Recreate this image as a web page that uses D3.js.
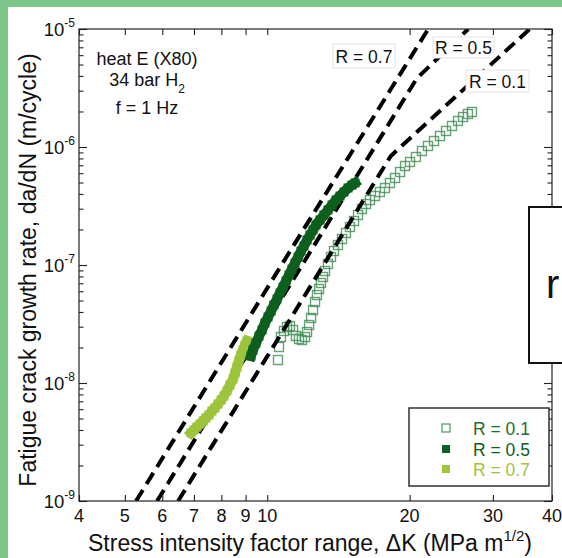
<!DOCTYPE html>
<html>
<head>
<meta charset="utf-8">
<script src="https://cdn.jsdelivr.net/npm/d3@7"></script>
<style>
  html, body { margin: 0; padding: 0; background: #fff; }
  svg { display: block; font-family: "Liberation Sans", Arial, Helvetica, sans-serif; }
</style>
</head>
<body>
<svg id="chart" width="562" height="558"></svg>
<script>
// ---- axis ticks ----
const kTicks = [4, 5, 6, 7, 8, 9, 10, 20, 30, 40];
const kTickLabels = ["4", "5", "6", "7", "8", "9", "10", "20", "30", "40"];
const rateDecades = [1e-9, 1e-8, 1e-7, 1e-6, 1e-5];
const rateExponents = ["-9", "-8", "-7", "-6", "-5"];

// ---- measured crack growth, R = 0.1 (open squares) ----
const r01K = [10.54, 10.59, 10.69, 10.85, 11.01, 11.17, 11.34, 11.50, 11.67, 11.84, 12.02, 12.14, 12.26,
  12.38, 12.50, 12.62, 12.74, 12.87, 12.99, 13.12, 13.25, 13.44, 13.64, 13.84, 14.11, 14.39, 14.67, 14.96,
  15.26, 15.56, 15.86, 16.18, 16.49, 16.90, 17.31, 17.74, 18.18, 18.63, 19.09, 19.56, 20.04, 20.63, 21.24,
  21.87, 22.52, 23.19, 23.88, 24.58, 25.31, 25.94, 26.57, 27.09];
const r01Rate = [1.566e-8, 2.019e-8, 2.453e-8, 2.759e-8, 2.982e-8, 3.041e-8, 2.812e-8, 2.502e-8, 2.360e-8,
  2.314e-8, 2.453e-8, 2.705e-8, 3.101e-8, 3.555e-8, 4.155e-8, 4.858e-8, 5.568e-8, 6.259e-8, 7.039e-8,
  7.914e-8, 8.897e-8, 1.020e-7, 1.169e-7, 1.314e-7, 1.477e-7, 1.661e-7, 1.867e-7, 2.099e-7, 2.360e-7,
  2.653e-7, 2.982e-7, 3.288e-7, 3.555e-7, 3.843e-7, 4.155e-7, 4.493e-7, 4.953e-7, 5.461e-7, 6.140e-7,
  6.902e-7, 7.463e-7, 8.228e-7, 9.250e-7, 1.020e-6, 1.124e-6, 1.239e-6, 1.367e-6, 1.507e-6, 1.661e-6,
  1.796e-6, 1.904e-6, 1.980e-6];

// ---- measured crack growth, R = 0.5 ----
const r05K = [9.24, 9.33, 9.47, 9.61, 9.75, 9.89, 10.04, 10.19, 10.33, 10.49, 10.64, 10.80, 10.96, 11.12,
  11.28, 11.45, 11.62, 11.79, 11.96, 12.14, 12.32, 12.50, 12.68, 12.93, 13.18, 13.44, 13.71, 13.98, 14.25,
  14.53, 14.82, 15.11, 15.33];
const r05Rate = [1.693e-8, 1.904e-8, 2.183e-8, 2.502e-8, 2.812e-8, 3.225e-8, 3.625e-8, 4.075e-8, 4.581e-8,
  5.150e-8, 5.789e-8, 6.509e-8, 7.318e-8, 8.228e-8, 9.250e-8, 1.039e-7, 1.169e-7, 1.314e-7, 1.449e-7,
  1.629e-7, 1.796e-7, 1.980e-7, 2.183e-7, 2.406e-7, 2.653e-7, 2.924e-7, 3.225e-7, 3.555e-7, 3.843e-7,
  4.155e-7, 4.493e-7, 4.764e-7, 4.953e-7];

// ---- measured crack growth, R = 0.7 ----
const r07K = [6.90, 7.00, 7.10, 7.21, 7.32, 7.42, 7.53, 7.64, 7.75, 7.87, 7.99, 8.10, 8.22, 8.34, 8.47,
  8.55, 8.63, 8.71, 8.80, 8.89, 8.97, 9.06];
const r07Rate = [3.769e-9, 3.996e-9, 4.237e-9, 4.493e-9, 4.764e-9, 5.051e-9, 5.356e-9, 5.790e-9, 6.140e-9,
  6.637e-9, 7.177e-9, 7.759e-9, 8.555e-9, 9.618e-9, 1.081e-8, 1.216e-8, 1.367e-8, 1.537e-8, 1.728e-8,
  1.904e-8, 2.099e-8, 2.269e-8];

// ---- design curves (dashed) ----
const designR07K = [5.28, 10.8, 21.9];
const designR07Rate = [1e-9, 1.05e-7, 1.0e-5];
const designR05K = [5.85, 10.0, 20.7, 26.6];
const designR05Rate = [1e-9, 3.3e-8, 3.8e-6, 1.0e-5];
const designR01K = [6.48, 10.0, 18.25, 35.9];
const designR01Rate = [1e-9, 1.68e-8, 8.4e-7, 1.0e-5];

const seriesNames = ["R = 0.1", "R = 0.5", "R = 0.7"];
const curveNames = ["R = 0.7", "R = 0.5", "R = 0.1"];

// ---- drawing ----
const svg = d3.select("#chart");
const W = 562, H = 558;
const plot = { left: 79, right: 552, top: 29, bottom: 501 };

const x = d3.scaleLog().domain([4, 40]).range([plot.left, plot.right]);
const y = d3.scaleLog().domain([1e-9, 1e-5]).range([plot.bottom, plot.top]);

const darkGreen = "#0c5f1d";
const midGreen = "#3f8c51";
const lightGreen = "#9cc43c";

svg.append("rect").attr("width", W).attr("height", H).attr("fill", "#fff");

svg.append("defs").append("clipPath").attr("id", "plotclip")
  .append("rect")
  .attr("x", plot.left).attr("y", plot.top)
  .attr("width", plot.right - plot.left).attr("height", plot.bottom - plot.top);

const zip = (a, b) => a.map((v, i) => [v, b[i]]);
const line = d3.line().x(d => x(d[0])).y(d => y(d[1]));

// R = 0.1 open squares
const s01 = 9;
svg.append("g").selectAll("rect").data(zip(r01K, r01Rate)).join("rect")
  .attr("x", d => x(d[0]) - s01 / 2).attr("y", d => y(d[1]) - s01 / 2)
  .attr("width", s01).attr("height", s01)
  .attr("fill", "none").attr("stroke", midGreen).attr("stroke-width", 1.4).attr("stroke-opacity", 0.8);

// dashed design curves
const curves = [zip(designR07K, designR07Rate), zip(designR05K, designR05Rate), zip(designR01K, designR01Rate)];
svg.append("g").attr("clip-path", "url(#plotclip)")
  .selectAll("path").data(curves).join("path")
  .attr("d", line)
  .attr("fill", "none").attr("stroke", "#000")
  .attr("stroke-width", 4).attr("stroke-dasharray", "13,7");

// dense filled-square series: a band as wide as the markers keeps the run solid
function filledSeries(pts, size, color) {
  const g = svg.append("g");
  g.append("path").attr("d", line(pts)).attr("fill", "none")
    .attr("stroke", color).attr("stroke-width", size + 1)
    .attr("stroke-linejoin", "round").attr("stroke-linecap", "square");
  g.selectAll("rect").data(pts).join("rect")
    .attr("x", d => x(d[0]) - size / 2).attr("y", d => y(d[1]) - size / 2)
    .attr("width", size).attr("height", size).attr("fill", color);
}

filledSeries(zip(r07K, r07Rate), 9, lightGreen);
filledSeries(zip(r05K, r05Rate), 9, darkGreen);

// curve labels
const curveLabelPos = [
  { x: 333, y: 44, w: 62, h: 24 },
  { x: 433, y: 37, w: 61, h: 21 },
  { x: 466, y: 70, w: 63, h: 22 }
];
const cl = svg.append("g").selectAll("g").data(curveNames).join("g");
cl.append("rect")
  .attr("x", (d, i) => curveLabelPos[i].x).attr("y", (d, i) => curveLabelPos[i].y)
  .attr("width", (d, i) => curveLabelPos[i].w).attr("height", (d, i) => curveLabelPos[i].h)
  .attr("fill", "#fff").attr("stroke", "#e4e4e4").attr("stroke-width", 1);
cl.append("text")
  .attr("x", (d, i) => curveLabelPos[i].x + curveLabelPos[i].w / 2)
  .attr("y", (d, i) => curveLabelPos[i].y + curveLabelPos[i].h / 2 + 6.5)
  .attr("text-anchor", "middle").attr("font-size", 17.5).attr("fill", "#111")
  .text(d => d);

// frame
svg.append("rect")
  .attr("x", plot.left).attr("y", plot.top)
  .attr("width", plot.right - plot.left).attr("height", plot.bottom - plot.top)
  .attr("fill", "none").attr("stroke", "#222").attr("stroke-width", 1.2);

// minor rate ticks
const minorRates = [];
rateDecades.slice(0, -1).forEach(d => { for (let m = 2; m <= 9; m++) minorRates.push(d * m); });

function styleAxis(g) {
  g.select(".domain").remove();
  g.selectAll("line").attr("stroke", "#222").attr("stroke-width", 1.1);
  g.selectAll("text").remove();
}

svg.append("g").attr("transform", `translate(0,${plot.bottom})`)
  .call(d3.axisBottom(x).tickValues(kTicks).tickSize(-6).tickFormat("")).call(styleAxis);
svg.append("g").attr("transform", `translate(0,${plot.top})`)
  .call(d3.axisTop(x).tickValues(kTicks).tickSize(-6).tickFormat("")).call(styleAxis);
svg.append("g").attr("transform", `translate(${plot.left},0)`)
  .call(d3.axisLeft(y).tickValues(rateDecades).tickSize(-8).tickFormat("")).call(styleAxis);
svg.append("g").attr("transform", `translate(${plot.left},0)`)
  .call(d3.axisLeft(y).tickValues(minorRates).tickSize(-4.5).tickFormat("")).call(styleAxis);
svg.append("g").attr("transform", `translate(${plot.right},0)`)
  .call(d3.axisRight(y).tickValues(rateDecades).tickSize(-8).tickFormat("")).call(styleAxis);
svg.append("g").attr("transform", `translate(${plot.right},0)`)
  .call(d3.axisRight(y).tickValues(minorRates).tickSize(-4.5).tickFormat("")).call(styleAxis);

// x tick labels
svg.append("g").selectAll("text").data(kTicks).join("text")
  .attr("x", d => x(d)).attr("y", plot.bottom + 21)
  .attr("text-anchor", "middle").attr("font-size", 18).attr("fill", "#111")
  .text((d, i) => kTickLabels[i]);

// y tick labels 10^n
const yl = svg.append("g").selectAll("text").data(rateDecades).join("text")
  .attr("x", plot.left - 4).attr("y", d => y(d) + 7)
  .attr("text-anchor", "end").attr("font-size", 18.5).attr("fill", "#111");
yl.append("tspan").text("10");
yl.append("tspan").attr("font-size", 12).attr("dy", -9).text((d, i) => rateExponents[i]);

// axis titles
const xt = svg.append("text").attr("x", 88).attr("y", 551)
  .attr("font-size", 23).attr("fill", "#111");
xt.append("tspan").text("Stress intensity factor range, \u0394K (MPa m");
xt.append("tspan").attr("font-size", 15).attr("dy", -10).text("1/2");
xt.append("tspan").attr("dy", 10).text(")");

svg.append("text")
  .attr("transform", "translate(36,270) rotate(-90)")
  .attr("text-anchor", "middle").attr("font-size", 23).attr("fill", "#111")
  .text("Fatigue crack growth rate, da/dN (m/cycle)");

// test conditions
const notes = svg.append("g").attr("font-size", 18).attr("fill", "#111").attr("text-anchor", "middle");
notes.append("text").attr("x", 147).attr("y", 65).text("heat E (X80)");
const n2 = notes.append("text").attr("x", 147).attr("y", 86);
n2.append("tspan").text("34 bar H");
n2.append("tspan").attr("font-size", 12).attr("dy", 7).text("2");
notes.append("text").attr("x", 147).attr("y", 114).text("f = 1 Hz");

// legend
const lg = svg.append("g");
lg.append("rect").attr("x", 409).attr("y", 408).attr("width", 140).attr("height", 78)
  .attr("fill", "#fff").attr("stroke", "#222").attr("stroke-width", 1.4);
const legRows = [428, 449, 469];
const legColors = [darkGreen, darkGreen, lightGreen];
lg.append("rect").attr("x", 442).attr("y", legRows[0] - 4).attr("width", 8).attr("height", 8)
  .attr("fill", "none").attr("stroke", midGreen).attr("stroke-width", 1.1);
lg.append("rect").attr("x", 442).attr("y", legRows[1] - 4).attr("width", 8).attr("height", 8).attr("fill", darkGreen);
lg.append("rect").attr("x", 442).attr("y", legRows[2] - 4).attr("width", 8).attr("height", 8).attr("fill", lightGreen);
lg.selectAll("text").data(seriesNames).join("text")
  .attr("x", 473).attr("y", (d, i) => legRows[i] + 6.5)
  .attr("font-size", 17.5).attr("fill", (d, i) => i === 0 ? "#1f6e2d" : legColors[i])
  .text(d => d);

// side panel at the right edge
svg.append("rect").attr("x", 529).attr("y", 207).attr("width", 40).attr("height", 156)
  .attr("fill", "#fff").attr("stroke", "#111").attr("stroke-width", 2);
svg.append("text").attr("x", 546).attr("y", 298).attr("font-size", 40).attr("fill", "#111").text("r");

// green border strips
svg.append("rect").attr("x", 0).attr("y", 0).attr("width", W).attr("height", 7).attr("fill", "#7dc68a");
svg.append("rect").attr("x", 0).attr("y", 0).attr("width", 8).attr("height", H).attr("fill", "#7dc68a");
</script>
</body>
</html>
